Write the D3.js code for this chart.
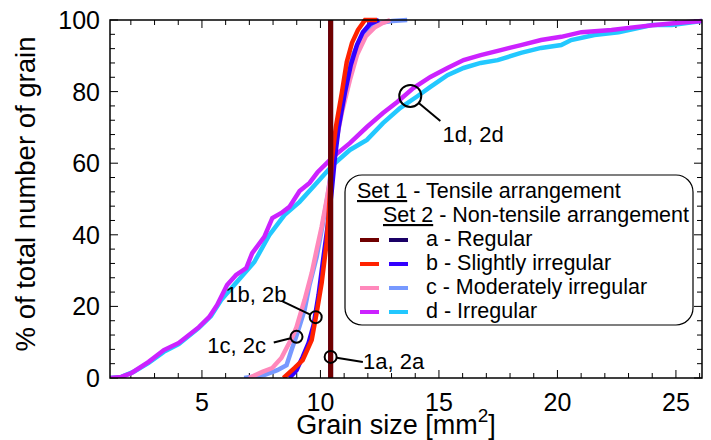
<!DOCTYPE html>
<html><head><meta charset="utf-8">
<script src="https://cdn.jsdelivr.net/npm/d3@7"></script>
<style>
html,body{margin:0;padding:0;background:#fff;}
svg text{font-family:"Liberation Sans",Arial,sans-serif;fill:#000;}
</style></head>
<body><svg id="c" width="711" height="440"></svg>
<script>
// ---- data (grain size mm^2, cumulative %) ----
const xTicksMajor = [5, 10, 15, 20, 25];
const yTicksMajor = [0, 20, 40, 60, 80, 100];

const s1a = [[10.43, 0], [10.43, 100]];
const s2a = [[10.43, 0], [10.43, 100]];
const s1b = [[8.44,0],[8.91,2.8],[9.25,5.0],[9.63,10.6],[9.84,18.2],[10.05,26.5],[10.26,37.7],[10.35,46.1],[10.48,60.9],[10.65,70.1],[10.90,79.6],[11.11,88.3],[11.33,93.6],[11.58,97.2],[11.88,100],[12.39,100]];
const s2b = [[8.69,0],[8.99,2.2],[9.25,5.9],[9.50,9.8],[9.71,14.8],[9.92,23.2],[10.14,34.4],[10.31,42.7],[10.48,52.5],[10.60,60.9],[10.77,70.1],[11.03,79.6],[11.28,87.4],[11.54,93.0],[11.79,96.6],[12.09,98.9],[12.47,100]];
const s1c = [[6.99,0],[7.55,1.7],[7.97,2.8],[8.35,5.6],[8.57,8.4],[8.82,11.5],[8.99,14.2],[9.33,21.8],[9.63,29.3],[9.84,35.8],[10.05,42.2],[10.26,49.7],[10.43,56.1],[10.65,65.6],[10.90,74.0],[11.24,83.2],[11.54,90.2],[11.92,95.5],[12.30,98.0],[12.64,99.2],[12.94,100]];
const s2c = [[6.78,0],[7.63,0.8],[8.18,2.2],[8.57,3.6],[8.78,7.8],[9.03,12.6],[9.33,19.0],[9.54,26.0],[9.84,33.8],[10.09,42.7],[10.31,51.1],[10.48,59.5],[10.65,67.9],[10.82,74.9],[11.11,83.8],[11.37,90.2],[11.67,94.4],[12.09,97.8],[12.52,99.2],[13.03,99.7],[13.66,100]];
const s1d = [[1.13,0],[1.60,0.3],[2.03,1.4],[2.75,4.5],[3.39,7.8],[4.02,9.8],[4.87,14.2],[5.30,17.0],[5.64,20.4],[6.06,26.0],[6.44,28.8],[6.87,30.7],[7.12,34.9],[7.63,39.4],[7.97,44.7],[8.35,46.1],[8.69,47.8],[9.12,52.2],[9.54,54.5],[9.88,57.5],[10.52,61.7],[11.24,65.6],[11.96,70.1],[12.64,74.0],[13.24,77.1],[13.92,81.0],[14.64,84.1],[15.36,86.6],[16.04,88.8],[16.76,90.2],[17.61,91.6],[18.46,93.0],[19.31,94.4],[20.16,95.3],[21.01,96.6],[22.28,97.2],[23.00,97.8],[24.11,98.6],[25.13,99.2],[26.10,99.7]];
const s2d = [[1.12,0],[1.60,0.3],[2.11,1.7],[2.75,4.2],[3.39,7.3],[4.02,9.5],[4.87,14.0],[5.38,17.3],[5.81,21.8],[6.36,26.0],[7.21,32.4],[7.84,39.9],[8.48,45.5],[9.12,49.2],[9.84,54.5],[10.52,59.5],[11.24,63.7],[11.96,66.5],[12.64,71.2],[13.36,75.4],[14.09,78.7],[14.64,81.3],[15.36,84.6],[16.04,86.6],[16.76,88.0],[17.48,88.8],[18.46,90.8],[19.31,92.2],[20.16,93.0],[20.58,94.4],[21.56,95.8],[22.58,96.6],[23.98,98.6],[24.83,98.6],[26.10,99.7]];

const seriesNames = ["2d","1d","2c","1c","2b","1b","2a","1a"];
const seriesData = [s2d, s1d, s2c, s1c, s2b, s1b, s2a, s1a];
const seriesColors = ["#22c8ff","#cc22ff","#7799ff","#ff88bb","#3300ff","#ff2200","#1a0066","#700000"];

const legendSet1 = "Set 1";
const legendSet1Rest = " - Tensile arrangement";
const legendSet2 = "Set 2";
const legendSet2Rest = " - Non-tensile arrangement";
const legendLabels = ["a - Regular","b - Slightly irregular","c - Moderately irregular","d - Irregular"];
const legendColors1 = ["#700000","#ff2200","#ff88bb","#cc22ff"];
const legendColors2 = ["#1a0066","#3300ff","#7799ff","#22c8ff"];

// annotations: circle point, leader line end, label position
const annLabels = ["1a, 2a","1b, 2b","1c, 2c","1d, 2d"];
const annCircle = [[10.43,5.9],[9.80,17.0],[8.99,11.5],[13.79,78.8]];
const annRadius = [6,6,6,11];
const annLineEnd = [[11.79,4.5],[8.40,21.4],[8.03,9.9],[15.06,71.8]];
const annText = [[11.80,2.4],[8.57,21.3],[7.70,7.0],[15.15,65.9]];
const annAnchor = ["start","end","end","start"];

// ---- chart ----
const svg = d3.select("#c");
const L = 110, R = 702, T = 20, B = 378;
const x = d3.scaleLinear().domain([1.12, 26.1]).range([L, R]);
const y = d3.scaleLinear().domain([0, 100]).range([B, T]);

svg.append("rect").attr("x",0).attr("y",0).attr("width",711).attr("height",440).attr("fill","#fff");

svg.append("defs").append("clipPath").attr("id","clip")
  .append("rect").attr("x",L).attr("y",T-3).attr("width",R-L).attr("height",B-T+3);

// ticks (inward, all four sides)
const xMinor = d3.range(2, 27).filter(v => x(v) < R);
const yMinor = d3.range(0, 101, 4);
const tg = svg.append("g").attr("stroke","#000").attr("stroke-width",1);
xMinor.forEach(v=>{
  const len = xTicksMajor.includes(v) ? 8 : 5;
  tg.append("line").attr("x1",x(v)).attr("x2",x(v)).attr("y1",B).attr("y2",B-len);
  tg.append("line").attr("x1",x(v)).attr("x2",x(v)).attr("y1",T).attr("y2",T+len);
});
const yAll = Array.from(new Set(yMinor.concat(yTicksMajor)));
yAll.forEach(v=>{
  const len = yTicksMajor.includes(v) ? 8 : 5;
  tg.append("line").attr("y1",y(v)).attr("y2",y(v)).attr("x1",L).attr("x2",L+len);
  tg.append("line").attr("y1",y(v)).attr("y2",y(v)).attr("x1",R).attr("x2",R-len);
});

// series
const line = d3.line().x(d=>x(d[0])).y(d=>y(d[1]));
const sg = svg.append("g").attr("clip-path","url(#clip)");
seriesData.forEach((d,i)=>{
  sg.append("path").attr("d",line(d)).attr("fill","none")
    .attr("stroke",seriesColors[i]).attr("stroke-width", seriesNames[i].endsWith("a") ? 5 : 4.5)
    .attr("stroke-linejoin","miter");
});

// frame
svg.append("rect").attr("x",L).attr("y",T).attr("width",R-L).attr("height",B-T)
  .attr("fill","none").attr("stroke","#000").attr("stroke-width",1.5);

// tick labels
xTicksMajor.forEach(v=>{
  svg.append("text").attr("x",x(v)).attr("y",411).attr("text-anchor","middle")
    .attr("font-size",25).text(v);
});
yTicksMajor.forEach(v=>{
  svg.append("text").attr("x",100).attr("y",y(v)+9).attr("text-anchor","end")
    .attr("font-size",25).text(v);
});

// axis titles
const xt = svg.append("text").attr("x",396).attr("y",434).attr("text-anchor","middle").attr("font-size",27);
xt.append("tspan").text("Grain size [mm");
xt.append("tspan").attr("font-size",19).attr("dy",-12).text("2");
xt.append("tspan").attr("dy",12).text("]");
svg.append("text").attr("transform","translate(35,194) rotate(-90)").attr("text-anchor","middle")
  .attr("font-size",27.5).text("% of total number of grain");

// annotations
annLabels.forEach((lab,i)=>{
  const c = annCircle[i], e = annLineEnd[i], t = annText[i];
  const cx = x(c[0]), cy = y(c[1]), ex = x(e[0]), ey = y(e[1]);
  const ang = Math.atan2(ey-cy, ex-cx), r = annRadius[i];
  svg.append("line").attr("x1",cx+r*Math.cos(ang)).attr("y1",cy+r*Math.sin(ang))
    .attr("x2",ex).attr("y2",ey).attr("stroke","#000").attr("stroke-width",2);
  svg.append("circle").attr("cx",cx).attr("cy",cy).attr("r",r)
    .attr("fill","none").attr("stroke","#000").attr("stroke-width",2);
  svg.append("text").attr("x",x(t[0])).attr("y",y(t[1])).attr("text-anchor",annAnchor[i])
    .attr("font-size",22).text(lab);
});

// legend
const lg = svg.append("g");
lg.append("rect").attr("x",345).attr("y",175).attr("width",348).attr("height",150)
  .attr("rx",17).attr("ry",17).attr("fill","#fff").attr("stroke","#000").attr("stroke-width",1.2);
const t1 = lg.append("text").attr("x",357).attr("y",198).attr("font-size",21.5);
t1.append("tspan").attr("text-decoration","underline").text(legendSet1);
t1.append("tspan").text(legendSet1Rest);
const t2 = lg.append("text").attr("x",383).attr("y",222).attr("font-size",21.5);
t2.append("tspan").attr("text-decoration","underline").text(legendSet2);
t2.append("tspan").text(legendSet2Rest);
legendLabels.forEach((lab,i)=>{
  const yy = 240 + i*24;
  lg.append("line").attr("x1",360).attr("x2",379).attr("y1",yy).attr("y2",yy)
    .attr("stroke",legendColors1[i]).attr("stroke-width",4);
  lg.append("line").attr("x1",389).attr("x2",408).attr("y1",yy).attr("y2",yy)
    .attr("stroke",legendColors2[i]).attr("stroke-width",4);
  lg.append("text").attr("x",426).attr("y",yy+6).attr("font-size",21.5).text(lab);
});
</script></body></html>
